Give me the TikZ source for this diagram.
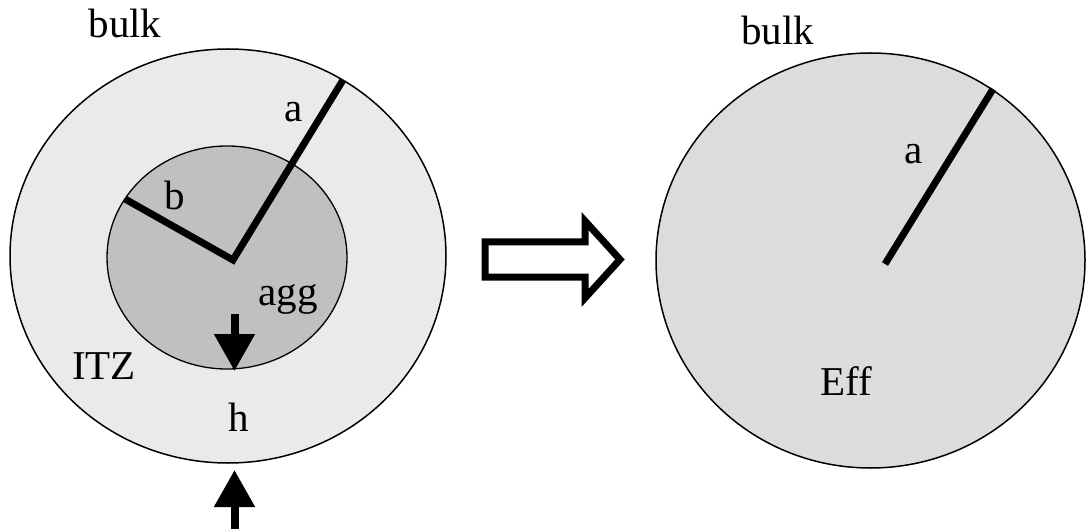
\documentclass[tikz,border=0pt]{standalone}
\usepackage{fontspec}
\setmainfont{Liberation Serif}
\usetikzlibrary{arrows.meta}
\definecolor{itzgray}{HTML}{EAEAEA}
\definecolor{agggray}{HTML}{C0C0C0}
\definecolor{effgray}{HTML}{DCDCDC}
\tikzset{
  lbl/.style={anchor=base, inner sep=0pt, font=\fontsize{41}{48}\selectfont},
  rim/.style={draw=black, line width=1.5pt},
  radius line/.style={line width=7pt, line join=miter},
  gap arrow/.style={line width=8pt, -{Triangle[width=39pt,length=37pt]}},
  hollow/.style={draw=black, fill=white, line width=7pt, line join=miter}
}
\begin{document}
\begin{tikzpicture}[x=1pt, y=-1pt]
\useasboundingbox (0,0) rectangle (1086,529);

% composite particle: aggregate core in an ITZ shell
\path[rim, fill=itzgray] (228,256) ellipse [x radius=218, y radius=207];
\path[rim, line width=1.3pt, fill=agggray] (227,257.5) ellipse [x radius=120, y radius=111.5];

\coordinate (c1) at (233,260);
\coordinate (ra) at (343,80);
\coordinate (rb) at (125,199);
\draw[radius line] (rb) -- (c1) -- (ra);

% thickness markers for the shell
\coordinate (d1) at (234.5,314);
\coordinate (d2) at (234.5,371);
\coordinate (u1) at (234.5,535);
\coordinate (u2) at (234.5,470);
\draw[gap arrow] (d1) -- (d2);
\draw[gap arrow] (u1) -- (u2);

\node[lbl] (bulkL) at (125,38) {bulk};
\node[lbl] (aL) at (294,121.7) {a};
\node[lbl] (bL) at (175,210) {b};
\node[lbl] (agg) at (288,305) {agg};
\node[lbl] (itz) at (104,379) {ITZ};
\node[lbl] (h) at (238.5,431.7) {h};

% homogenisation step
\draw[hollow] (485,242) -- (585,242) -- (585,221) -- (620,259.5)
  -- (585,298) -- (585,277) -- (485,277) -- cycle;

% equivalent effective particle
\path[rim, fill=effgray] (870.5,260.5) ellipse [x radius=214.5, y radius=207.5];
\coordinate (c2) at (885,264);
\coordinate (re) at (993,89);
\draw[radius line] (c2) -- (re);

\node[lbl] (bulkR) at (777.5,45) {bulk};
\node[lbl] (aR) at (914,163.3) {a};
\node[lbl] (eff) at (846.7,395) {Eff};
\end{tikzpicture}
\end{document}
